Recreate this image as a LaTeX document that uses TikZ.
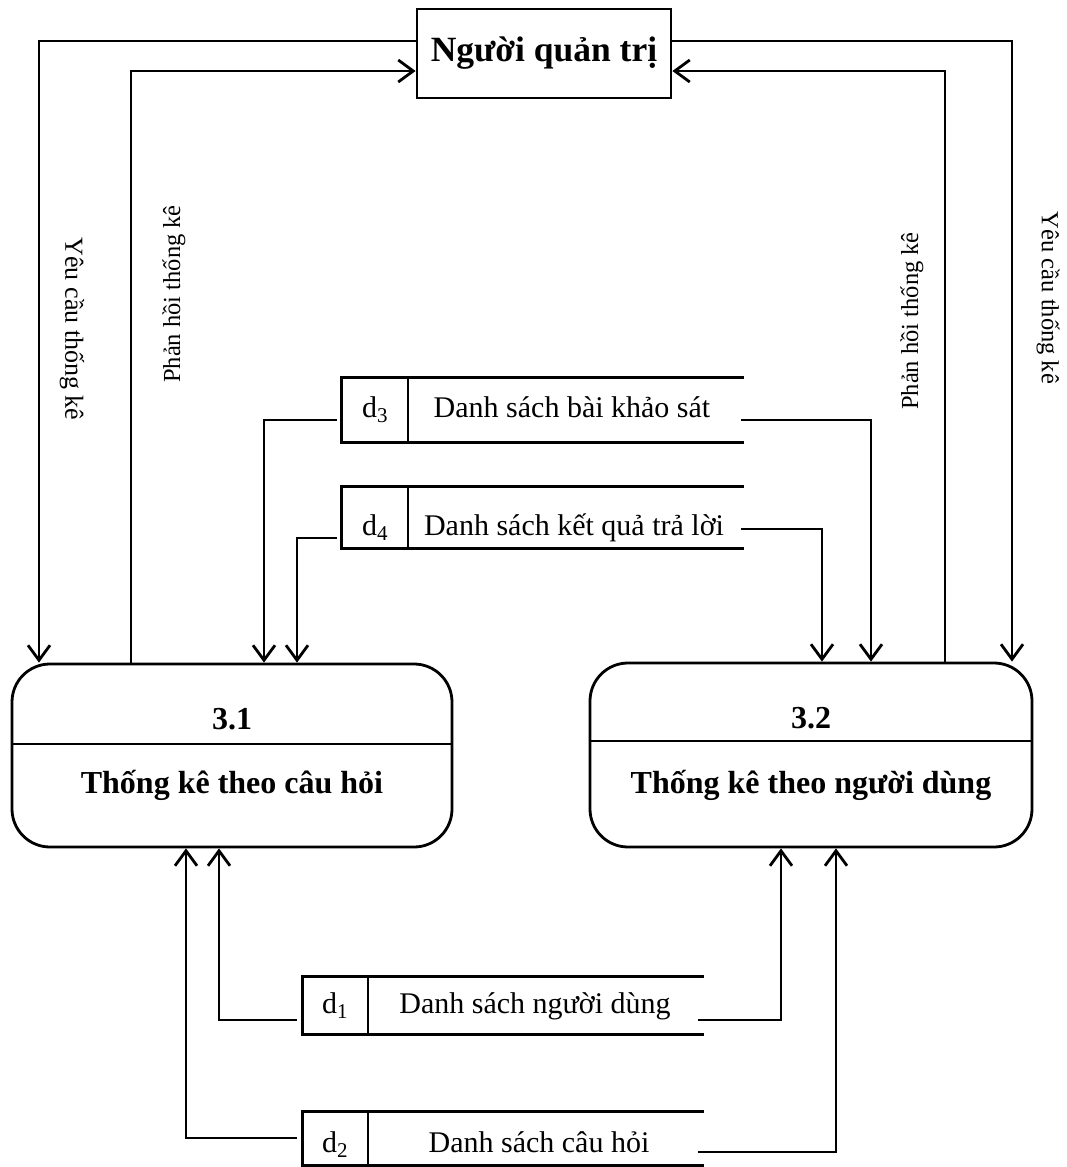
\documentclass[tikz,border=0pt]{standalone}
\usepackage{fontspec}
\setmainfont{Liberation Serif}
\usetikzlibrary{arrows.meta,calc}

\tikzset{
  line/.style={line width=2.8pt},
  flow/.style={line, -{Straight Barb[length=15pt,width=22pt,line width=2.8pt]}},
  actor/.style={draw, line width=2.8pt, minimum width=254pt, minimum height=89pt,
    inner sep=0pt, font=\fontsize{35.5}{42}\selectfont\bfseries},
  process/.style={draw, line width=2.8pt, rounded corners=38pt, inner sep=0pt},
  ptitle/.style={anchor=base, font=\fontsize{32}{38}\selectfont\bfseries},
  store/.style={inner sep=0pt},
  stext/.style={anchor=base, font=\fontsize{30}{36}\selectfont},
  vlabel/.style={font=\fontsize{24.5}{29}\selectfont, inner sep=0pt},
}

\begin{document}
\begin{tikzpicture}[x=1pt,y=-1pt]
\useasboundingbox (0,0) rectangle (1066,1167);

% external entity
\node[actor] (admin) at (544,53.5) {Người quản trị};

% processes
\node[process, minimum width=440pt, minimum height=183pt] (p31) at (232,755.5) {};
\draw[line] (p31.west |- 0,744) -- (p31.east |- 0,744);
\node[ptitle] (p31n) at (232,729) {3.1};
\node[ptitle] (p31t) at (232,793) {Thống kê theo câu hỏi};

\node[process, minimum width=442pt, minimum height=184pt] (p32) at (811,755) {};
\draw[line] (p32.west |- 0,741) -- (p32.east |- 0,741);
\node[ptitle] (p32n) at (811,728) {3.2};
\node[ptitle] (p32t) at (811,793) {Thống kê theo người dùng};

% data stores (open on the right)
\node[store, minimum width=402pt, minimum height=64pt] (d3) at (543,410) {};
\node[store, minimum width=402pt, minimum height=61pt] (d4) at (543,517.5) {};
\node[store, minimum width=401pt, minimum height=57pt] (d1) at (503.5,1005.5) {};
\node[store, minimum width=401pt, minimum height=53pt] (d2) at (503.5,1138.5) {};
\foreach \s/\dx in {d3/408,d4/408,d1/368,d2/368}{
  \draw[line] (\s.north east) -- (\s.north west) -- (\s.south west) -- (\s.south east);
  \draw[line] (\dx,0 |- \s.north) -- (\dx,0 |- \s.south);
}
\node[stext] (d3id) at (375,417) {d\textsubscript{3}};
\node[stext] (d3n) at (572,417) {Danh sách bài khảo sát};
\node[stext] (d4id) at (375,535) {d\textsubscript{4}};
\node[stext] (d4n) at (574,535) {Danh sách kết quả trả lời};
\node[stext] (d1id) at (335,1013) {d\textsubscript{1}};
\node[stext] (d1n) at (535,1013) {Danh sách người dùng};
\node[stext] (d2id) at (335,1152) {d\textsubscript{2}};
\node[stext] (d2n) at (539,1152) {Danh sách câu hỏi};

% flows between the administrator and the processes
\draw[flow] (admin.west |- 0,41) -| (39,0 |- p31.north);
\draw[flow] (131,0 |- p31.north) |- (admin.west |- 0,71);
\draw[flow] (admin.east |- 0,41) -| (1012,0 |- p32.north);
\draw[flow] (945,0 |- p32.north) |- (admin.east |- 0,71);

\node[vlabel, rotate=-90, font=\fontsize{26}{31}\selectfont] (l1) at (72,329) {Yêu cầu thống kê};
\node[vlabel, rotate=90] (l2) at (174,294) {Phản hồi thống kê};
\node[vlabel, rotate=90] (l3) at (912,321) {Phản hồi thống kê};
\node[vlabel, rotate=-90] (l4) at (1048,298) {Yêu cầu thống kê};

% flows from the data stores
\draw[flow] ($(d3.west)+(-5,10)$) -| (264,0 |- p31.north);
\draw[flow] ($(d4.west)+(-5,20.5)$) -| (297,0 |- p31.north);
\draw[flow] ($(d3.east)+(-3,10)$) -| (871,0 |- p32.north);
\draw[flow] ($(d4.east)+(-3,11.5)$) -| (822,0 |- p32.north);
\draw[flow] ($(d1.west)+(-6,14.5)$) -| (219,0 |- p31.south);
\draw[flow] ($(d2.west)+(-6,-0.5)$) -| (186,0 |- p31.south);
\draw[flow] ($(d1.east)+(-6,14.5)$) -| (781,0 |- p32.south);
\draw[flow] ($(d2.east)+(-6,13.5)$) -| (836,0 |- p32.south);
\end{tikzpicture}
\end{document}
